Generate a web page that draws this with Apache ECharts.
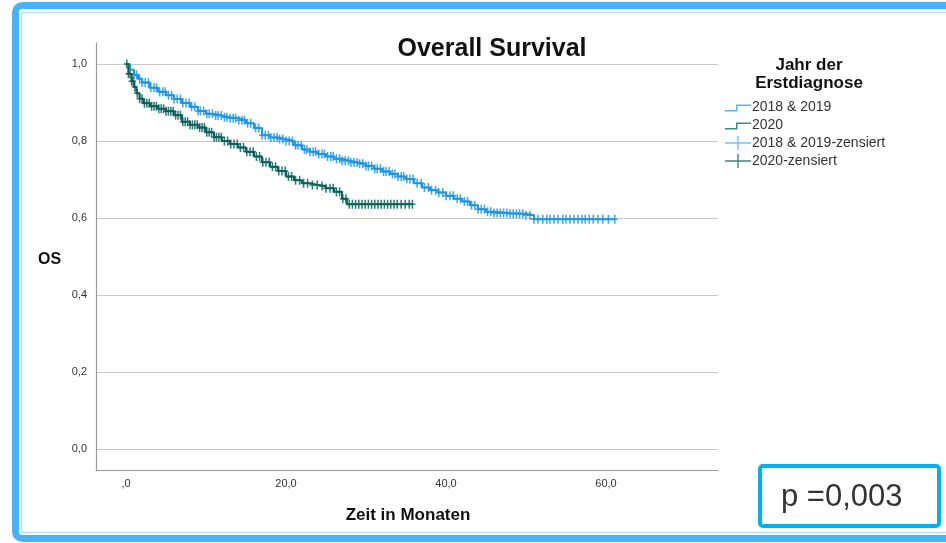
<!DOCTYPE html>
<html>
<head>
<meta charset="utf-8">
<script src="https://cdn.jsdelivr.net/npm/echarts@6/dist/echarts.min.js"></script>
<style>
html,body{margin:0;padding:0;background:#fff;}
#chart{width:946px;height:543px;}
</style>
</head>
<body>
<div id="chart"></div>
<script>
// ---- data ----
const seriesNames = ['2018 & 2019', '2020', '2018 & 2019-zensiert', '2020-zensiert'];
const xTicks = [0, 20, 40, 60];
const yTicks = [0, 0.2, 0.4, 0.6, 0.8, 1.0];

// Kaplan-Meier curve 2018 & 2019 (months, survival)
const blueTimes = [0, 0.5, 1, 1.5, 2, 3, 4, 5, 6, 7, 8, 9, 10, 11, 12, 13, 14, 15, 16, 17, 18, 19, 20, 21, 22, 23, 24, 25, 26, 27, 28, 29, 30, 31, 32, 33, 34, 35, 36, 37, 38, 39, 40, 41, 42, 43, 44, 45, 46, 48, 50, 51, 61.1];
const blueSurv = [1.0, 0.985, 0.972, 0.962, 0.952, 0.938, 0.928, 0.919, 0.909, 0.899, 0.889, 0.878, 0.871, 0.866, 0.862, 0.859, 0.854, 0.846, 0.834, 0.815, 0.809, 0.805, 0.800, 0.789, 0.778, 0.772, 0.766, 0.760, 0.754, 0.749, 0.744, 0.741, 0.735, 0.728, 0.721, 0.714, 0.708, 0.701, 0.690, 0.679, 0.672, 0.666, 0.658, 0.650, 0.643, 0.633, 0.623, 0.616, 0.613, 0.611, 0.607, 0.597, 0.597];
// Kaplan-Meier curve 2020
const greenTimes = [0, 0.3, 0.7, 1, 1.3, 1.7, 2.2, 3, 4, 5, 6, 7, 8, 9, 10, 11, 12, 13, 14, 15, 16, 17, 18, 19, 20, 21, 22, 23, 24, 25, 26, 27, 27.6, 35.8];
const greenSurv = [1.0, 0.975, 0.955, 0.94, 0.924, 0.91, 0.898, 0.89, 0.884, 0.877, 0.867, 0.85, 0.842, 0.835, 0.823, 0.81, 0.80, 0.792, 0.783, 0.772, 0.76, 0.745, 0.733, 0.722, 0.708, 0.698, 0.69, 0.686, 0.683, 0.677, 0.668, 0.65, 0.636, 0.636];
// censored observation times
const blueCensor = [1.0, 1.3, 1.7, 2.0, 2.4, 2.8, 3.1, 3.5, 3.8, 4.2, 4.6, 4.9, 5.3, 5.7, 6.0, 6.4, 6.8, 7.1, 7.5, 7.9, 8.2, 8.6, 9.0, 9.3, 9.7, 10.1, 10.4, 10.8, 11.2, 11.5, 11.9, 12.3, 12.6, 13.0, 13.4, 13.7, 14.1, 14.5, 14.8, 15.2, 15.6, 16.2, 16.6, 17.0, 17.4, 17.8, 18.1, 18.5, 18.9, 19.2, 19.6, 20.0, 20.4, 20.8, 21.2, 21.5, 21.9, 22.3, 22.6, 23.0, 23.4, 23.7, 24.1, 24.5, 24.8, 25.2, 25.6, 25.9, 26.3, 26.7, 27.0, 27.4, 27.8, 28.1, 28.5, 28.9, 29.2, 29.6, 30.0, 30.3, 30.7, 31.1, 31.4, 31.8, 32.2, 32.5, 32.9, 33.3, 33.6, 34.0, 34.4, 34.7, 35.1, 35.5, 35.9, 36.4, 36.9, 37.3, 37.8, 38.2, 38.7, 39.1, 39.6, 40.0, 40.5, 40.9, 41.4, 41.8, 42.3, 42.7, 43.2, 43.6, 44.0, 44.4, 44.8, 45.2, 45.6, 46.0, 46.4, 46.8, 47.2, 47.6, 48.0, 48.4, 48.8, 49.2, 49.6, 50.0, 50.5, 51.0, 51.5, 52.1, 52.6, 53.0, 53.5, 54.0, 54.6, 55.0, 55.5, 56.0, 56.5, 57.0, 57.4, 57.9, 58.4, 59.0, 59.6, 60.3, 61.1];
const greenCensor = [0.1, 0.3, 0.5, 0.7, 0.9, 1.1, 1.4, 1.7, 2.0, 2.3, 2.6, 2.9, 3.2, 3.5, 3.8, 4.1, 4.4, 4.7, 5.0, 5.3, 5.6, 5.9, 6.2, 6.5, 6.8, 7.1, 7.4, 7.7, 8.0, 8.3, 8.6, 8.9, 9.2, 9.5, 9.8, 10.1, 10.4, 10.7, 11.0, 11.3, 11.6, 11.9, 12.3, 12.7, 13.1, 13.5, 13.9, 14.3, 14.7, 15.1, 15.5, 15.9, 16.3, 16.7, 17.1, 17.5, 17.9, 18.3, 18.7, 19.1, 19.5, 19.9, 20.3, 20.7, 21.2, 21.7, 22.2, 22.7, 23.3, 23.9, 24.5, 25.0, 25.5, 25.9, 26.3, 26.7, 27.1, 27.5, 27.9, 28.3, 28.7, 29.1, 29.5, 29.9, 30.3, 30.7, 31.1, 31.5, 31.9, 32.3, 32.7, 33.1, 33.5, 33.9, 34.4, 34.9, 35.4, 35.8];

// ---- build ----
const BLUE = '#1c95e6';
const GREEN = '#07605a';
const FONT = '"Liberation Sans", Arial, sans-serif';

function pairs(ts, ss) { return ts.map((t, i) => [t, ss[i]]); }
function stepAt(ts, ss, t) {
  let v = ss[0];
  for (let i = 0; i < ts.length; i++) { if (ts[i] <= t) v = ss[i]; else break; }
  return v;
}
const blueCens = blueCensor.map(t => [t, stepAt(blueTimes, blueSurv, t)]);
const greenCens = greenCensor.map(t => [t, stepAt(greenTimes, greenSurv, t)]);

const plusPath = 'path://M0,0L0,0ZM6,9L6,9ZM2.25,0L3.75,0L3.75,9L2.25,9ZM0,3.75L6,3.75L6,5.25L0,5.25Z';
const legendStep = 'path://M0,0L0,0ZM26,14L26,14ZM0,10L11,10L11,4.5L26,4.5L26,6L12.5,6L12.5,11.5L0,11.5Z';
const legendPlus = 'path://M0,0L0,0ZM26,14L26,14ZM0,6.3L26,6.3L26,7.7L0,7.7ZM12.3,0L13.7,0L13.7,14L12.3,14Z';

const fmt = v => {
  const s = v.toFixed(1).replace('.', ',');
  return s === '0,0' ? ',0' : s;
};

const chart = echarts.init(document.getElementById('chart'), null, {renderer: 'canvas'});
chart.setOption({
  animation: false,
  backgroundColor: '#fff',
  textStyle: {fontFamily: FONT},
  title: [{
    text: 'Overall Survival', left: 487, top: 32, textAlign: 'center',
    textStyle: {fontFamily: FONT, fontSize: 25, fontWeight: 'bold', color: '#111'}
  }, {
    text: 'Jahr der\nErstdiagnose', left: 804, top: 51, textAlign: 'center',
    textStyle: {fontFamily: FONT, fontSize: 17, fontWeight: 'bold', color: '#111', lineHeight: 18}
  }],
  legend: {
    orient: 'vertical', left: 720, top: 95, itemGap: 4, itemWidth: 26, itemHeight: 14,
    textStyle: {fontFamily: FONT, fontSize: 14, color: '#333', padding: [0, 0, 0, -4]},
    itemStyle: {borderWidth: 0},
    data: [
      {name: seriesNames[0], icon: legendStep, itemStyle: {color: '#5cb5f0'}},
      {name: seriesNames[1], icon: legendStep, itemStyle: {color: '#3e8a85'}},
      {name: seriesNames[2], icon: legendPlus, itemStyle: {color: '#5cb5f0'}},
      {name: seriesNames[3], icon: legendPlus, itemStyle: {color: '#1f6e68'}}
    ]
  },
  grid: [
    {left: 126, right: 228, top: 64, bottom: 94, outerBoundsMode: 'none'},
    {left: 96, right: 228, top: 64, bottom: 94, outerBoundsMode: 'none'},
    {left: 96, right: 228, top: 43, bottom: 73, outerBoundsMode: 'none'}
  ],
  xAxis: [
    {gridIndex: 0, type: 'value', min: xTicks[0], max: 74, interval: 20,
      axisLine: {show: false}, axisTick: {show: false}, splitLine: {show: false},
      axisLabel: {margin: 29, fontSize: 11, color: '#333', fontFamily: FONT, showMaxLabel: false,
        formatter: v => (xTicks.indexOf(v) >= 0 ? fmt(v) : '')}},
    {gridIndex: 1, type: 'value', min: 0, max: 1, show: false},
    {gridIndex: 2, type: 'value', min: 0, max: 1, splitLine: {show: false},
      axisTick: {show: false}, axisLabel: {show: false},
      axisLine: {show: true, lineStyle: {color: '#9a9a9a', width: 1.2}}}
  ],
  yAxis: [
    {gridIndex: 0, type: 'value', min: 0, max: 1, show: false},
    {gridIndex: 1, type: 'value', min: yTicks[0], max: yTicks[yTicks.length - 1], interval: 0.2,
      axisLine: {show: false}, axisTick: {show: false},
      splitLine: {show: true, lineStyle: {color: '#c8c8c8', width: 1}},
      axisLabel: {margin: 9, fontSize: 11, color: '#333', fontFamily: FONT, formatter: v => v.toFixed(1).replace('.', ',')}},
    {gridIndex: 2, type: 'value', min: 0, max: 1, splitLine: {show: false},
      axisTick: {show: false}, axisLabel: {show: false},
      axisLine: {show: true, lineStyle: {color: '#9a9a9a', width: 1.2}}}
  ],
  series: [
    {name: seriesNames[0], type: 'line', step: 'end', xAxisIndex: 0, yAxisIndex: 0,
      data: pairs(blueTimes, blueSurv), showSymbol: false, clip: false,
      color: BLUE, lineStyle: {color: BLUE, width: 2}},
    {name: seriesNames[1], type: 'line', step: 'end', xAxisIndex: 0, yAxisIndex: 0,
      data: pairs(greenTimes, greenSurv), showSymbol: false, clip: false,
      color: GREEN, lineStyle: {color: GREEN, width: 2}},
    {name: seriesNames[2], type: 'scatter', xAxisIndex: 0, yAxisIndex: 0,
      data: blueCens, symbol: plusPath, symbolSize: [6, 9], clip: false,
      itemStyle: {color: BLUE, opacity: 0.85}},
    {name: seriesNames[3], type: 'scatter', xAxisIndex: 0, yAxisIndex: 0,
      data: greenCens, symbol: plusPath, symbolSize: [6, 9], clip: false,
      itemStyle: {color: GREEN, opacity: 0.85}}
  ],
  graphic: [
    {type: 'text', left: 38, top: 252, style: {text: 'OS', font: 'bold 16px ' + FONT, fill: '#111'}},
    {type: 'text', x: 408, y: 515, style: {text: 'Zeit in Monaten', font: 'bold 17px ' + FONT, fill: '#111', align: 'center', verticalAlign: 'middle'}},
    {type: 'rect', shape: {x: 760, y: 466, width: 179, height: 60, r: 3}, style: {fill: 'none', stroke: '#00b0f0', lineWidth: 4}},
    {type: 'text', x: 781, y: 497, style: {text: 'p =0,003', font: '31px ' + FONT, fill: '#333', align: 'left', verticalAlign: 'middle'}},
    {type: 'rect', shape: {x: 15.5, y: 5.5, width: 945, height: 533, r: 7}, style: {fill: 'none', stroke: '#47b1fb', lineWidth: 7}},
    {type: 'rect', shape: {x: 21.5, y: 12.5, width: 935, height: 520}, style: {fill: 'none', stroke: '#b9ddf8', lineWidth: 1.5}}
  ]
});
</script>
</body>
</html>
